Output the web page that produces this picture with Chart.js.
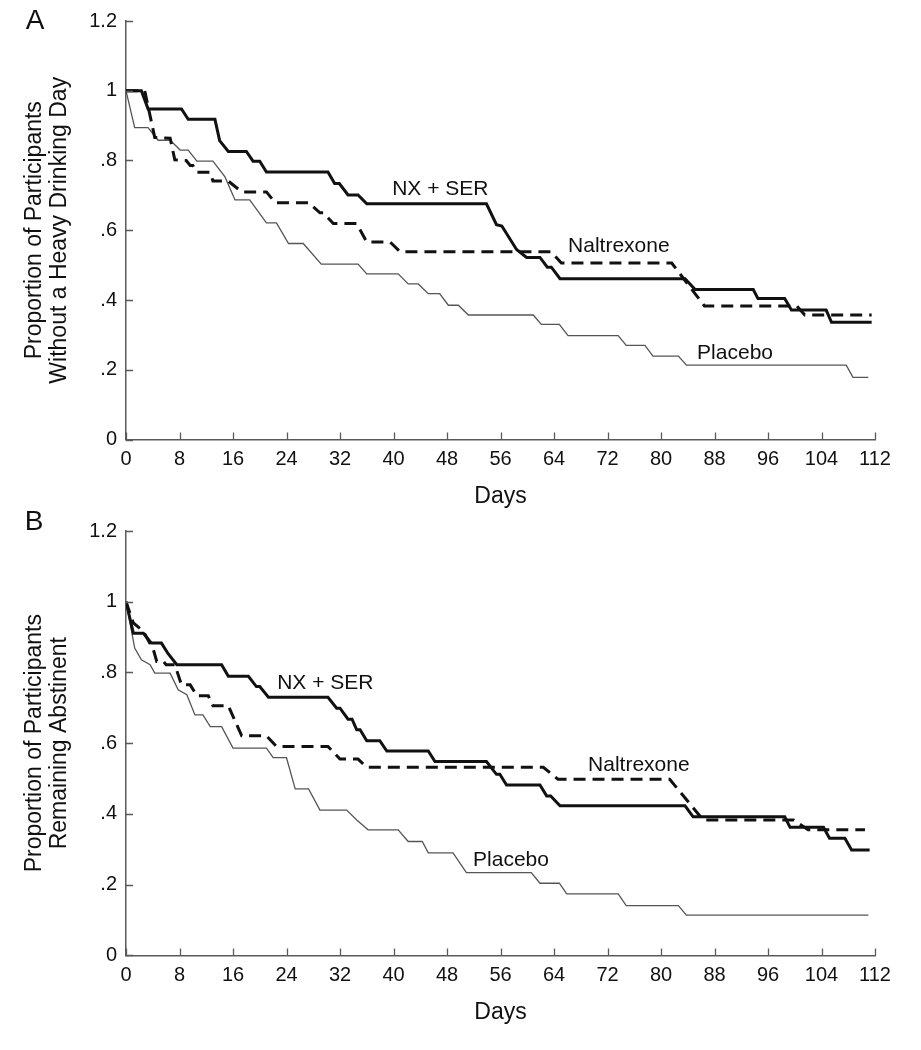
<!DOCTYPE html>
<html>
<head>
<meta charset="utf-8">
<script src="https://cdn.jsdelivr.net/npm/chart.js@4.4.0/dist/chart.umd.min.js"></script>
<style>
  html, body { margin: 0; padding: 0; background: #fff; }
  body { width: 921px; height: 1050px; position: relative; overflow: hidden; }
  canvas { position: absolute; left: 0; }
</style>
</head>
<body>
<canvas id="chartA" width="921" height="525" style="top:0px"></canvas>
<canvas id="chartB" width="921" height="550" style="top:500px"></canvas>
<script>
// ---------- Tick values / labels ----------
const xTickValues = [0, 8, 16, 24, 32, 40, 48, 56, 64, 72, 80, 88, 96, 104, 112];
const yTickValues = [0, 0.2, 0.4, 0.6, 0.8, 1.0, 1.2];
const yTickLabels = ['0', '.2', '.4', '.6', '.8', '1', '1.2'];
const seriesNames = ['NX + SER', 'Naltrexone', 'Placebo'];
const xTitle = 'Days';
const yTitleA = ['Proportion of Participants', 'Without a Heavy Drinking Day'];
const yTitleB = ['Proportion of Participants', 'Remaining Abstinent'];

// ---------- Panel A: without a heavy drinking day ----------
const aNxSerDay = [0, 2.3, 3.3, 8.3, 9.3, 13.3, 14, 15.3, 18, 19, 20, 21, 30.2, 31.2, 31.9, 33.2, 34.7, 36, 53.9, 55.4, 56.2, 58.4, 59.9, 61.9, 63, 63.6, 64.9, 83.6, 85.1, 93.8, 94.5, 98.5, 99.5, 104.7, 105.5, 111.5];
const aNxSerVal = [1, 1, 0.948, 0.948, 0.918, 0.918, 0.857, 0.826, 0.826, 0.798, 0.798, 0.767, 0.767, 0.734, 0.734, 0.701, 0.701, 0.676, 0.676, 0.616, 0.612, 0.545, 0.522, 0.522, 0.494, 0.494, 0.461, 0.461, 0.430, 0.430, 0.404, 0.404, 0.371, 0.371, 0.336, 0.336];

const aNalDay = [0, 2.8, 4.3, 6.6, 7.3, 9, 9.6, 10, 10.6, 12.6, 13, 15.3, 17.3, 21, 22.3, 27.3, 29, 29.5, 31, 34.5, 36, 39.5, 41, 63.6, 65.1, 81.6, 86.5, 100.3, 101.5, 111.5];
const aNalVal = [1, 1, 0.866, 0.864, 0.802, 0.800, 0.786, 0.786, 0.766, 0.766, 0.741, 0.741, 0.710, 0.710, 0.679, 0.679, 0.650, 0.650, 0.619, 0.619, 0.566, 0.566, 0.538, 0.538, 0.506, 0.506, 0.383, 0.383, 0.357, 0.357];

const aPlaDay = [0, 1.3, 3.3, 4.8, 6.6, 8.1, 9.3, 10.6, 13, 14.8, 16.3, 18.5, 21, 22.5, 24.3, 26.5, 29.2, 34.7, 36, 40.7, 42.2, 43.7, 45.2, 46.9, 48.2, 49.7, 51.2, 60.9, 62.1, 64.8, 66.1, 73.6, 74.8, 77.6, 78.8, 82.6, 83.8, 107.7, 108.7, 111];
const aPlaVal = [1, 0.894, 0.894, 0.858, 0.858, 0.830, 0.830, 0.798, 0.798, 0.753, 0.687, 0.687, 0.621, 0.621, 0.562, 0.562, 0.503, 0.503, 0.475, 0.475, 0.446, 0.446, 0.418, 0.418, 0.385, 0.385, 0.357, 0.357, 0.330, 0.330, 0.298, 0.298, 0.270, 0.270, 0.239, 0.239, 0.213, 0.213, 0.178, 0.178];

// ---------- Panel B: remaining abstinent ----------
const bNxSerDay = [0, 1.1, 2.6, 3.8, 5.3, 6.3, 7.6, 14.3, 15.3, 18.3, 19.5, 20, 21.3, 30.2, 31.5, 32, 33.2, 33.8, 34.5, 35, 36, 37.95, 39, 45.2, 46.2, 53.9, 55.4, 55.9, 56.9, 61.9, 62.9, 63.5, 64.9, 83.6, 84.8, 98.5, 99.3, 104.3, 105.2, 107.5, 108.5, 111.2];
const bNxSerVal = [1, 0.911, 0.911, 0.883, 0.883, 0.853, 0.822, 0.822, 0.789, 0.789, 0.760, 0.760, 0.730, 0.730, 0.699, 0.699, 0.668, 0.668, 0.638, 0.638, 0.607, 0.607, 0.578, 0.578, 0.548, 0.548, 0.512, 0.512, 0.482, 0.482, 0.451, 0.451, 0.423, 0.423, 0.392, 0.392, 0.362, 0.362, 0.331, 0.331, 0.298, 0.298];

const bNalDay = [0, 1.1, 2.6, 4.1, 4.6, 5.6, 6, 7.3, 8.3, 9.6, 10.6, 12.3, 13, 15.3, 17.3, 21, 22.5, 30.2, 32, 34.7, 36, 62.4, 64.6, 81.3, 86.3, 99.8, 102, 110.5];
const bNalVal = [1, 0.940, 0.916, 0.864, 0.831, 0.831, 0.822, 0.822, 0.765, 0.765, 0.734, 0.734, 0.706, 0.706, 0.621, 0.621, 0.591, 0.591, 0.555, 0.555, 0.532, 0.532, 0.498, 0.498, 0.383, 0.383, 0.355, 0.355];

const bPlaDay = [0, 1.3, 2.3, 3.6, 4.3, 6.6, 7.8, 9.1, 10.3, 11.5, 12.6, 14.3, 16, 21, 22, 24, 25.3, 27.3, 29, 33, 34.5, 36.2, 40.7, 42.2, 44.3, 45.2, 48.9, 50.9, 60.6, 61.9, 64.8, 65.9, 73.6, 74.8, 82.6, 83.8, 111];
const bPlaVal = [1, 0.869, 0.836, 0.822, 0.798, 0.798, 0.751, 0.737, 0.680, 0.680, 0.647, 0.647, 0.586, 0.586, 0.559, 0.559, 0.471, 0.471, 0.411, 0.411, 0.383, 0.355, 0.355, 0.322, 0.322, 0.290, 0.290, 0.234, 0.234, 0.204, 0.204, 0.174, 0.174, 0.141, 0.141, 0.114, 0.114];

// Curve label anchors (data coordinates: day, proportion)
const aLabelDay = [39.8, 66.1, 85.4];
const aLabelVal = [0.717, 0.553, 0.248];
const bLabelDay = [22.6, 69.1, 51.9];
const bLabelVal = [0.771, 0.539, 0.270];

// ---------- helpers ----------
const FONT = "'Liberation Sans', Arial, Helvetica, sans-serif";
const AXIS_COLOR = '#5a5a5a';

function pts(days, vals) { return days.map((d, i) => ({ x: d, y: vals[i] })); }

const innerTicks = {
  id: 'innerTicks',
  afterDraw(chart) {
    const ctx = chart.ctx, xs = chart.scales.x, ys = chart.scales.y, a = chart.chartArea;
    ctx.save();
    ctx.strokeStyle = AXIS_COLOR; ctx.lineWidth = 1.3;
    ctx.beginPath();
    xs.ticks.forEach(t => { const px = Math.round(xs.getPixelForValue(t.value)) + 0.5; ctx.moveTo(px, a.bottom); ctx.lineTo(px, a.bottom - 7); });
    ys.ticks.forEach(t => { const py = Math.round(ys.getPixelForValue(t.value)) + 0.5; ctx.moveTo(a.left, py); ctx.lineTo(a.left + 7, py); });
    ctx.stroke();
    ctx.restore();
  }
};

const curveLabels = {
  id: 'curveLabels',
  afterDatasetsDraw(chart, args, opts) {
    const ctx = chart.ctx, xs = chart.scales.x, ys = chart.scales.y;
    ctx.save();
    ctx.fillStyle = '#111';
    ctx.font = '21px ' + FONT;
    ctx.textAlign = 'left'; ctx.textBaseline = 'middle';
    opts.names.forEach((n, i) => {
      ctx.fillText(n, xs.getPixelForValue(opts.days[i]), ys.getPixelForValue(opts.vals[i]));
    });
    ctx.font = '28px ' + FONT;
    ctx.textAlign = 'center';
    ctx.fillText(opts.letter, opts.letterX, opts.letterY);
    ctx.restore();
  }
};

function makePanel(id, p) {
  new Chart(document.getElementById(id), {
    type: 'line',
    data: {
      datasets: [
        { label: seriesNames[0], data: pts(p.nxDay, p.nxVal), borderColor: '#111', borderWidth: 3, pointRadius: 0, tension: 0, fill: false },
        { label: seriesNames[1], data: pts(p.nalDay, p.nalVal), borderColor: '#111', borderWidth: 3, borderDash: [12, 7], pointRadius: 0, tension: 0, fill: false },
        { label: seriesNames[2], data: pts(p.plaDay, p.plaVal), borderColor: '#555', borderWidth: 1.3, pointRadius: 0, tension: 0, fill: false }
      ]
    },
    options: {
      responsive: false,
      animation: false,
      devicePixelRatio: 1,
      layout: { padding: { left: 0, right: 46, top: p.top, bottom: 0 } },
      plugins: {
        legend: { display: false },
        tooltip: { enabled: false },
        curveLabels: { names: seriesNames, days: p.labDay, vals: p.labVal, letter: p.letter, letterX: p.letterX, letterY: p.letterY }
      },
      scales: {
        x: {
          type: 'linear', min: 0, max: 112,
          afterBuildTicks: s => { s.ticks = xTickValues.map(v => ({ value: v })); },
          afterFit: s => { s.height = p.xAxisH; },
          grid: { display: false, drawTicks: false },
          border: { display: true, color: AXIS_COLOR, width: 1.5 },
          ticks: { autoSkip: false, maxRotation: 0, padding: 8, color: '#111', font: { family: FONT, size: 20 } },
          title: { display: true, text: xTitle, color: '#111', font: { family: FONT, size: 23, lineHeight: 1.2 }, padding: { top: 0, bottom: p.xTitlePad } }
        },
        y: {
          type: 'linear', min: 0, max: 1.2,
          afterBuildTicks: s => { s.ticks = yTickValues.map(v => ({ value: v })); },
          afterFit: s => { s.width = 126; },
          grid: { display: false, drawTicks: false },
          border: { display: true, color: AXIS_COLOR, width: 1.5 },
          ticks: { padding: 9, color: '#111', font: { family: FONT, size: 20 }, callback: (v, i) => yTickLabels[i] },
          title: { display: true, text: p.yTitle, color: '#111', font: { family: FONT, size: 23, lineHeight: 1.1 }, padding: { top: 22, bottom: 0 } }
        }
      }
    },
    plugins: [innerTicks, curveLabels]
  });
}

makePanel('chartA', {
  nxDay: aNxSerDay, nxVal: aNxSerVal, nalDay: aNalDay, nalVal: aNalVal, plaDay: aPlaDay, plaVal: aPlaVal,
  labDay: aLabelDay, labVal: aLabelVal, yTitle: yTitleA, letter: 'A', letterX: 35, letterY: 21,
  top: 14, xAxisH: 85.5, xTitlePad: 15
});
makePanel('chartB', {
  nxDay: bNxSerDay, nxVal: bNxSerVal, nalDay: bNalDay, nalVal: bNalVal, plaDay: bPlaDay, plaVal: bPlaVal,
  labDay: bLabelDay, labVal: bLabelVal, yTitle: yTitleB, letter: 'B', letterX: 34, letterY: 22,
  top: 31, xAxisH: 94.6, xTitlePad: 24
});
</script>
</body>
</html>
